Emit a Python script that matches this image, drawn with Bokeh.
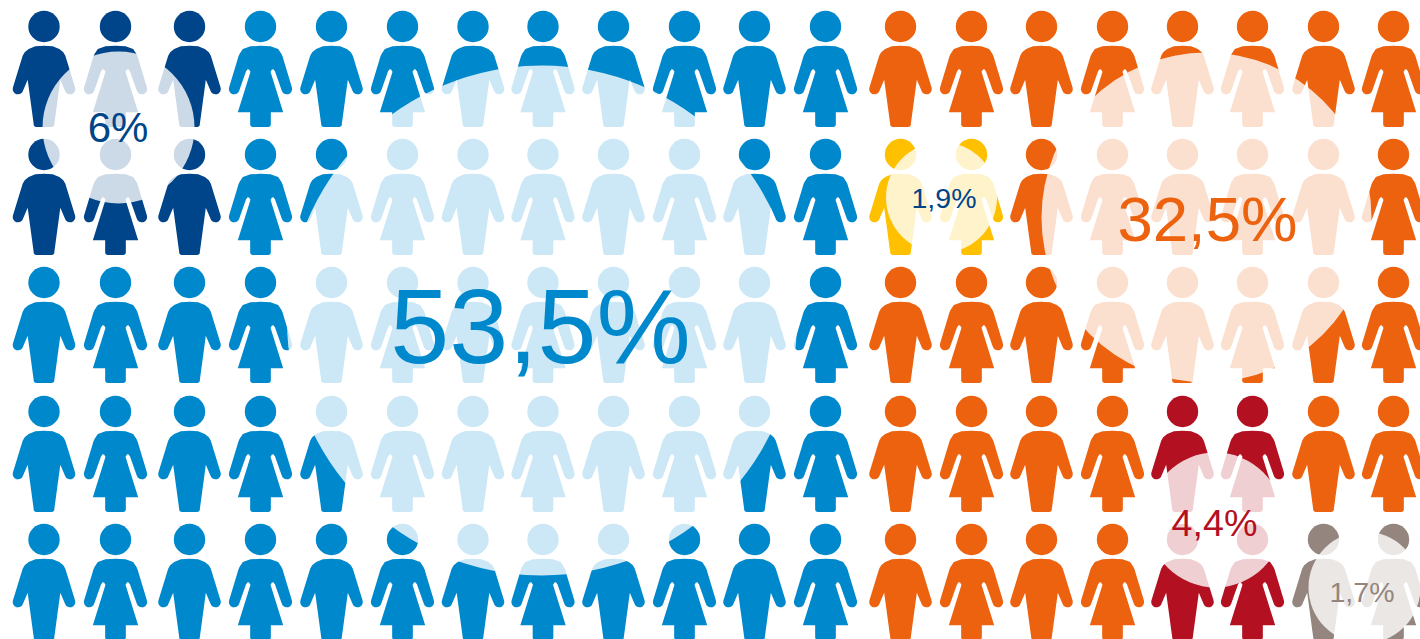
from math import cos, sin, pi
from bokeh.plotting import figure
from bokeh.embed import file_html
from bokeh.resources import INLINE
from bokeh.models import Range1d
from bokeh.core.properties import value

# --- data ---
categories = ["dark blue", "blue", "yellow", "orange", "red", "grey"]
percent_labels = ["6%", "53,5%", "1,9%", "32,5%", "4,4%", "1,7%"]
category_colors = ["#004489", "#0088CC", "#FFC000", "#EC620F", "#B31022", "#94857F"]
label_colors = ["#004489", "#0088CC", "#004489", "#EC620F", "#B31022", "#94857F"]
# one letter per person: index into categories
grid = [
    "000111111111" + "33333333",
    "000111111111" + "22333333",
    "111111111111" + "33333333",
    "111111111111" + "33334433",
    "111111111111" + "33334455",
]
column_x = [43.5, 115, 189, 260, 331, 402, 472.5, 542.5, 613, 684, 754, 825,
            900, 971, 1041, 1112, 1182, 1252, 1323, 1393]
row_y = [26, 154, 282, 411, 539]
bubble_x = [118, 541.5, 941, 1206, 1215, 1364]
bubble_y = [127, 320, 197, 217, 519.5, 587]
bubble_r = [76, 255, 55.5, 165, 67.5, 56]
label_x = [117.5, 540, 943.5, 1207, 1214, 1361.5]
label_y = [143, 367, 209, 243, 537, 603]
label_px = [42, 106, 28.5, 63.5, 37.7, 28.5]

# --- pictogram outlines (half, in 1/3 px, relative to body top centre) ---
def arc(cx, cy, r, a0, a1, n=8):
    return [(cx + r * cos(a0 + (a1 - a0) * i / n), cy + r * sin(a0 + (a1 - a0) * i / n))
            for i in range(n + 1)]

male_half = ([(0, 0), (-26, 2), (-46, 10), (-58, 20), (-64, 30)]
             + arc(-78, 130, 16, pi + 0.3, 0.3)
             + [(-49, 102), (-31, 235)]
             + arc(-23, 236, 8, pi, pi / 2, 4)
             + [(0, 244)])
female_half = ([(0, 0), (-30, 2), (-53, 10), (-63, 25), (-66, 32)]
               + arc(-79, 130, 16, pi + 0.3, 0.3)
               + [(-43, 76)]
               + arc(-37, 76, 5, pi, 2 * pi, 4)
               + [(-30, 78), (-68, 200), (-31, 200), (-31, 236)]
               + arc(-23, 236, 8, pi, pi / 2, 4)
               + [(0, 244)])

def outline(half, cx, top):
    pts = half + [(-x, y) for x, y in reversed(half)]
    return [cx + x / 3 for x, _ in pts], [top + y / 3 for _, y in pts]

xs, ys, fills, head_x, head_y = [], [], [], [], []
for r, line in enumerate(grid):
    for c, code in enumerate(line):
        half = male_half if c % 2 == 0 else female_half
        px, py = outline(half, column_x[c], row_y[r] + 19.2)
        xs.append(px)
        ys.append(py)
        fills.append(category_colors[int(code)])
        head_x.append(column_x[c])
        head_y.append(row_y[r])

p = figure(width=1420, height=639, x_range=Range1d(0, 1420), y_range=Range1d(639, 0),
           output_backend="svg", toolbar_location=None, min_border=0,
           outline_line_color=None, background_fill_color="white", border_fill_color="white")
p.axis.visible = False
p.grid.visible = False

p.patches(xs, ys, fill_color=fills, line_color=None)
p.circle(head_x, head_y, radius=15.7, fill_color=fills, line_color=None)
p.circle(bubble_x, bubble_y, radius=bubble_r, fill_color="white", fill_alpha=0.8, line_color=None)

for i, lab in enumerate(percent_labels):
    p.text([label_x[i]], [label_y[i]], text=[lab], text_color=label_colors[i],
           text_font=value("Liberation Sans"), text_font_size=f"{label_px[i]}px",
           text_align="center", text_baseline="alphabetic", y_offset=-0.39 * label_px[i])

open("out.html", "w").write(file_html(p, INLINE))
